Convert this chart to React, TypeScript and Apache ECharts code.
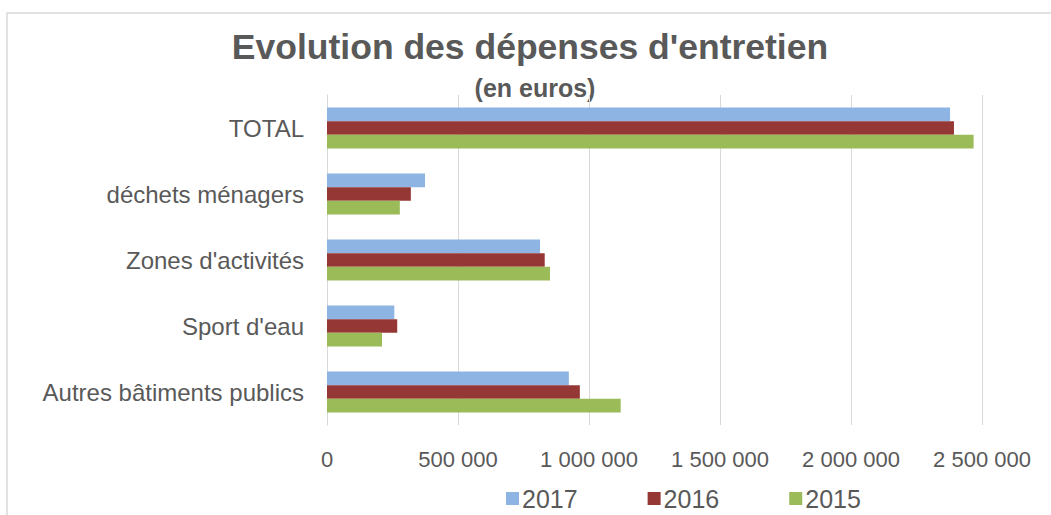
import React, { useEffect, useRef } from "react";
import * as echarts from "echarts";

const categories = [
  "Autres bâtiments publics",
  "Sport d'eau",
  "Zones d'activités",
  "déchets ménagers",
  "TOTAL",
];
const seriesNames = ["2017", "2016", "2015"];
const values2017 = [923000, 257000, 813000, 374000, 2378000];
const values2016 = [965000, 268000, 831000, 320000, 2393000];
const values2015 = [1121000, 210000, 851000, 278000, 2468000];
const colors = ["#8DB4E2", "#953735", "#9BBB59"];
const xTicks = { min: 0, max: 2500000, interval: 500000 };
const titleText = "Evolution des dépenses d'entretien";
const subtitleText = "(en euros)";

const FONT = "'Liberation Sans', Arial, sans-serif";
const TXT = "#595959";

function fmt(v: number): string {
  return String(v).replace(/\B(?=(\d{3})+(?!\d))/g, " ");
}

export default function App() {
  const ref = useRef<HTMLDivElement>(null);
  useEffect(() => {
    if (!ref.current) return;
    const chart = echarts.init(ref.current, null, { renderer: "svg" });
    const data = [values2017, values2016, values2015];
    chart.setOption({
      animation: false,
      backgroundColor: "#ffffff",
      textStyle: { fontFamily: FONT },
      graphic: [
        {
          type: "rect",
          shape: { x: 7, y: 13, width: 1200, height: 700 },
          style: { fill: "none", stroke: "#d9d9d9", lineWidth: 1.5 },
          silent: true,
          z: -1,
        },
        {
          type: "text",
          x: 530,
          y: 47,
          style: {
            text: titleText,
            fill: TXT,
            font: `bold 35.5px ${FONT}`,
            textAlign: "center",
            textVerticalAlign: "middle",
          },
        },
        {
          type: "text",
          x: 535,
          y: 88,
          style: {
            text: subtitleText,
            fill: TXT,
            font: `bold 25px ${FONT}`,
            textAlign: "center",
            textVerticalAlign: "middle",
          },
        },
      ],
      legend: {
        data: seriesNames,
        left: 501,
        top: 481,
        itemWidth: 13,
        itemHeight: 13,
        itemGap: 70,
        icon: "rect",
        textStyle: { color: TXT, fontSize: 25, fontFamily: FONT, padding: [0, 0, 0, -2] },
      },
      grid: { left: 327, right: 69, top: 95, bottom: 90, containLabel: false },
      xAxis: {
        type: "value",
        min: xTicks.min,
        max: xTicks.max,
        interval: xTicks.interval,
        axisLine: { show: false },
        axisTick: { show: false },
        splitLine: { show: true, lineStyle: { color: "#d9d9d9", width: 1 } },
        axisLabel: {
          color: TXT,
          fontSize: 22,
          fontFamily: FONT,
          margin: 23,
          formatter: (v: number) => fmt(v),
        },
      },
      yAxis: {
        type: "category",
        data: categories,
        axisLine: { show: true, lineStyle: { color: "#d9d9d9", width: 1 } },
        axisTick: { show: false },
        axisLabel: { color: TXT, fontSize: 24, fontFamily: FONT, margin: 23 },
      },
      series: seriesNames.map((name, i) => ({
        name,
        type: "bar",
        data: data[i],
        barGap: "0%",
        barCategoryGap: "38%",
        itemStyle: { color: colors[i] },
      })),
    });
    return () => chart.dispose();
  }, []);
  return (
    <div
      ref={ref}
      style={{ position: "absolute", left: 0, top: 0, width: 1051, height: 515 }}
    />
  );
}
